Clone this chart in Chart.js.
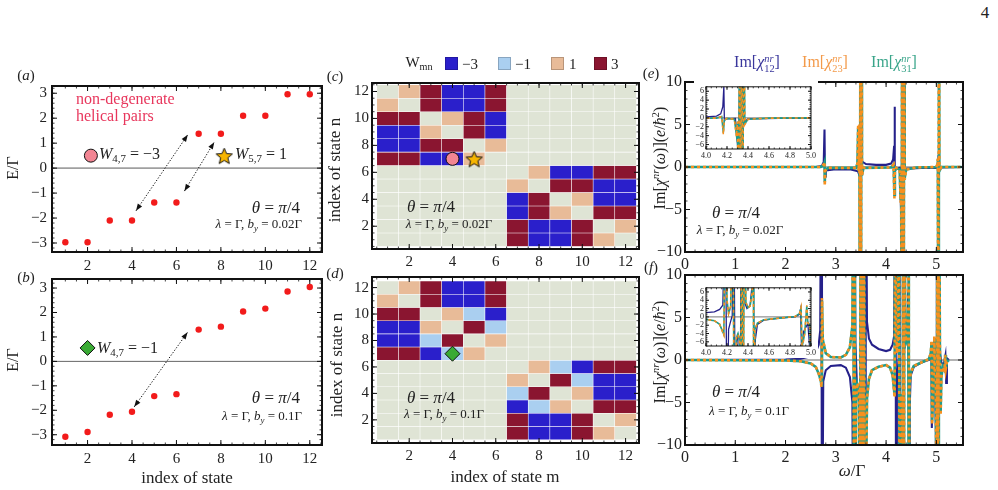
<!DOCTYPE html>
<html>
<head>
<meta charset="utf-8">
<script src="https://cdn.jsdelivr.net/npm/chart.js@4.4.1/dist/chart.umd.min.js"></script>
<style>
  body { margin: 0; background: #fff; }
  #fig { position: relative; width: 998px; height: 490px; overflow: hidden;
         font-family: "Liberation Serif", "DejaVu Serif", serif; color: #222; }
  #fig canvas { position: absolute; }
  .tx { position: absolute; white-space: nowrap; line-height: 1; }
  .tx sub { font-size: 68%; vertical-align: -0.3em; }
  .tx sup { font-size: 68%; vertical-align: 0.55em; }
  .ss { display: inline-block; font-size: 65%; line-height: 1.0; vertical-align: -0.45em; text-align: left; }
  .sq { position: absolute; width: 13px; height: 13px; box-sizing: border-box; border: 1px solid rgba(0,0,0,0.2); }
</style>
</head>
<body>
<div id="fig">
  <canvas id="chartA"></canvas>
  <canvas id="chartB"></canvas>
  <canvas id="chartC"></canvas>
  <canvas id="chartD"></canvas>
  <canvas id="chartE"></canvas>
  <canvas id="chartF"></canvas>
  <canvas id="insetE"></canvas>
  <canvas id="insetF"></canvas>
</div>
<script>
'use strict';

// ---- data ----

// panels (a),(b): eigen-energies E/Gamma vs index of state
const stateIdx = [1, 2, 3, 4, 5, 6, 7, 8, 9, 10, 11, 12];
const energyA = [-2.97, -2.97, -2.1, -2.1, -1.38, -1.38, 1.38, 1.38, 2.1, 2.1, 2.96, 2.96];
const energyB = [-3.08, -2.89, -2.18, -2.06, -1.42, -1.34, 1.3, 1.42, 2.04, 2.16, 2.86, 3.04];
const energyTicks = [-3, -2, -1, 0, 1, 2, 3];
const stateTicks = [2, 4, 6, 8, 10, 12];

// panels (c),(d): W_mn, rows n = 12 ... 1, columns m = 1 ... 12
const wC = [
  [0, 1, 3, -3, -3, 3, 0, 0, 0, 0, 0, 0],
  [1, 0, 3, -3, -3, 3, 0, 0, 0, 0, 0, 0],
  [3, 3, 0, 1, 3, -3, 0, 0, 0, 0, 0, 0],
  [-3, -3, 1, 0, 3, -3, 0, 0, 0, 0, 0, 0],
  [-3, -3, 3, 3, 0, 1, 0, 0, 0, 0, 0, 0],
  [3, 3, -3, -3, 1, 0, 0, 0, 0, 0, 0, 0],
  [0, 0, 0, 0, 0, 0, 0, 1, -3, -3, 3, 3],
  [0, 0, 0, 0, 0, 0, 1, 0, 3, 3, -3, -3],
  [0, 0, 0, 0, 0, 0, -3, 3, 0, 1, -3, -3],
  [0, 0, 0, 0, 0, 0, -3, 3, 1, 0, 3, 3],
  [0, 0, 0, 0, 0, 0, 3, -3, -3, 3, 0, 1],
  [0, 0, 0, 0, 0, 0, 3, -3, -3, 3, 1, 0]
];
const wD = [
  [0, 1, 3, -3, -3, 3, 0, 0, 0, 0, 0, 0],
  [1, 0, 3, -3, -3, 3, 0, 0, 0, 0, 0, 0],
  [3, 3, 0, 1, -1, -3, 0, 0, 0, 0, 0, 0],
  [-3, -3, 1, 0, 3, -1, 0, 0, 0, 0, 0, 0],
  [-3, -3, -1, 3, 0, 1, 0, 0, 0, 0, 0, 0],
  [3, 3, -3, -1, 1, 0, 0, 0, 0, 0, 0, 0],
  [0, 0, 0, 0, 0, 0, 0, 1, -1, -3, 3, 3],
  [0, 0, 0, 0, 0, 0, 1, 0, 3, -1, -3, -3],
  [0, 0, 0, 0, 0, 0, -1, 3, 0, 1, -3, -3],
  [0, 0, 0, 0, 0, 0, -3, -1, 1, 0, 3, 3],
  [0, 0, 0, 0, 0, 0, 3, -3, -3, 3, 0, 1],
  [0, 0, 0, 0, 0, 0, 3, -3, -3, 3, 1, 0]
];
const wLevels = [-3, -1, 1, 3];

// panels (e),(f): Im[chi^nr] vs omega/Gamma, [omega, value]
const e12 = [[0, 0], [2.6, 0], [2.72, 0.1], [2.76, 0.6], [2.775, 4.4], [2.785, -1.1], [2.8, -0.4], [3.0, -0.25],
  [3.3, -0.3], [3.44, -0.5], [3.47, -1], [3.5, 1], [3.53, 0.6], [3.6, 0.35], [3.8, 0.25], [4.0, 0.25], [4.1, 0.4],
  [4.14, 0.9], [4.16, 2.5], [4.17, 7.1], [4.175, -0.6], [4.19, -0.2], [4.28, -0.1], [4.31, -9], [4.32, 9],
  [4.335, -9], [4.35, 9], [4.36, -1], [4.4, -0.2], [4.7, -0.1], [5.0, -0.1], [5.03, 0.3], [5.045, 1.4],
  [5.055, -0.3], [5.1, -0.05], [5.5, 0]];
const e23 = [[0, 0], [2.7, 0], [2.76, 0.3], [2.775, 0.6], [2.78, -2.2], [2.79, -0.4], [2.85, -0.1], [3.4, -0.1],
  [3.43, 0.4], [3.445, 5], [3.455, -0.5], [3.47, 5], [3.48, -30], [3.49, 30], [3.5, -30], [3.51, 30], [3.52, -1],
  [3.55, -0.1], [4.1, -0.05], [4.15, 0.3], [4.165, -3.7], [4.175, -0.5], [4.2, -0.1], [4.27, -0.3], [4.29, -4.2],
  [4.3, -0.8], [4.31, -30], [4.32, 30], [4.33, -30], [4.34, 30], [4.35, -30], [4.36, 30], [4.37, -1.5],
  [4.4, -0.3], [4.6, -0.05], [5.0, 0], [5.02, 0.3], [5.03, 1], [5.04, -30], [5.05, 30], [5.06, -0.5],
  [5.1, 0], [5.5, 0]];
const e31 = [[0, 0], [2.7, 0], [2.76, 0.2], [2.775, 0.5], [2.78, -1.8], [2.79, -0.4], [2.85, -0.1], [3.4, -0.1],
  [3.43, 0.4], [3.445, 4.6], [3.455, -0.5], [3.47, 4.8], [3.48, -30], [3.49, 30], [3.5, -30], [3.51, 30], [3.52, -1],
  [3.55, -0.1], [4.1, -0.05], [4.15, 0.3], [4.165, -3.3], [4.175, -0.5], [4.2, -0.1], [4.27, -0.3], [4.29, -3.9],
  [4.3, -0.8], [4.31, -30], [4.32, 30], [4.33, -30], [4.34, 30], [4.35, -30], [4.36, 30], [4.37, -1.3],
  [4.4, -0.3], [4.6, -0.05], [5.0, 0], [5.02, 0.3], [5.03, 0.9], [5.04, -30], [5.05, 30], [5.06, -0.5],
  [5.1, 0], [5.5, 0]];

const f12 = [[0, 0], [2.0, 0.05], [2.3, 0.15], [2.5, 0.45], [2.6, 0.9], [2.66, 1.8], [2.69, 3.5], [2.71, 30],
  [2.725, -30], [2.75, -2.5], [2.8, -1.2], [2.9, -0.7], [3.1, -0.6], [3.2, -0.9], [3.28, -2], [3.33, -5],
  [3.355, -30], [3.365, 30], [3.39, 2], [3.42, -3], [3.47, -4], [3.52, -8], [3.55, -30], [3.585, -30],
  [3.595, 30], [3.62, 4.5], [3.66, 2.5], [3.72, 1.8], [3.85, 1.3], [4.0, 1.05], [4.08, 1.2], [4.13, 1.8],
  [4.16, 2.8], [4.185, 30], [4.2, -30], [4.215, -3], [4.23, -1.5], [4.25, 0.3], [4.265, 30], [4.28, -30],
  [4.295, -6], [4.305, -4.4], [4.315, -4.8], [4.325, -30], [4.335, 30], [4.36, 4], [4.39, 2], [4.42, 2.8],
  [4.44, 8], [4.45, 30], [4.46, -30], [4.47, -5.5], [4.49, -1.8], [4.55, -0.8], [4.7, -0.3], [4.85, 0],
  [4.89, 0.6], [4.9, 1.8], [4.91, -8], [4.93, -3.5], [4.97, -1.6], [4.99, -8.5], [5.0, -30], [5.01, 30],
  [5.03, 5], [5.05, -1], [5.08, 0.5], [5.1, -0.3], [5.15, -0.5], [5.18, 0.5], [5.195, -2.7], [5.21, 0.2],
  [5.25, 0]];
const f23 = [[0, 0], [2.0, -0.05], [2.3, -0.15], [2.5, -0.4], [2.6, -0.8], [2.66, -1.6], [2.7, -2.5],
  [2.715, -3.2], [2.725, 7.3], [2.74, 2.5], [2.8, 0.8], [2.9, 0.35], [3.1, 0.3], [3.2, 0.6], [3.28, 1.5],
  [3.33, 4], [3.35, 30], [3.36, -30], [3.37, 30], [3.38, -30], [3.4, -5], [3.43, -2.7], [3.46, -3.5],
  [3.48, -30], [3.495, 30], [3.51, -30], [3.53, 30], [3.545, -30], [3.56, 30], [3.575, -30], [3.62, -4.5],
  [3.66, -2.2], [3.72, -1.2], [3.85, -0.8], [4.0, -0.6], [4.08, -0.9], [4.13, -1.8], [4.17, -4.4], [4.185, 30],
  [4.2, 4], [4.215, 0.8], [4.235, 2.5], [4.255, 30], [4.27, -30], [4.29, -5], [4.305, -4.2], [4.32, -5.5],
  [4.33, -30], [4.34, 30], [4.355, -30], [4.365, 30], [4.38, 3.5], [4.4, 2.2], [4.42, 2.6], [4.44, 6],
  [4.45, 30], [4.455, -30], [4.465, -3.2], [4.49, -1.5], [4.55, -0.7], [4.7, -0.3], [4.85, 0.1], [4.89, 0.8],
  [4.905, 2.3], [4.915, -7.6], [4.94, -4], [4.96, 2.8], [4.97, -1.5], [4.99, -2], [5.01, -30], [5.02, 30],
  [5.035, -30], [5.05, 30], [5.07, 2], [5.085, -6.5], [5.1, -2], [5.13, -0.8], [5.165, -1.2], [5.175, 0.6],
  [5.19, -1], [5.21, -0.2], [5.25, 0]];
const f31 = [[0, 0], [2.0, -0.05], [2.3, -0.15], [2.5, -0.4], [2.6, -0.8], [2.66, -1.6], [2.7, -2.4],
  [2.715, -3.0], [2.725, 7.0], [2.74, 2.4], [2.8, 0.8], [2.9, 0.35], [3.1, 0.3], [3.2, 0.6], [3.28, 1.5],
  [3.33, 4], [3.35, 30], [3.36, -30], [3.37, 30], [3.38, -30], [3.4, -5], [3.43, -2.9], [3.46, -3.6],
  [3.48, -30], [3.495, 30], [3.51, -30], [3.53, 30], [3.545, -30], [3.56, 30], [3.575, -30], [3.62, -4.5],
  [3.66, -2.2], [3.72, -1.2], [3.85, -0.8], [4.0, -0.6], [4.08, -0.9], [4.13, -1.8], [4.17, -4.2], [4.185, 30],
  [4.2, 4], [4.215, 0.8], [4.235, 2.5], [4.255, 30], [4.27, -30], [4.29, -5], [4.305, -4.0], [4.32, -5.5],
  [4.33, -30], [4.34, 30], [4.355, -30], [4.365, 30], [4.38, 3.5], [4.4, 2.2], [4.42, 2.6], [4.44, 6],
  [4.45, 30], [4.455, -30], [4.465, -3.0], [4.49, -1.5], [4.55, -0.7], [4.7, -0.3], [4.85, 0.1], [4.89, 0.8],
  [4.905, 2.1], [4.915, -7.2], [4.94, -4], [4.96, 2.6], [4.97, -1.5], [4.99, -2], [5.01, -30], [5.02, 30],
  [5.035, -30], [5.05, 30], [5.07, 2], [5.085, -6.2], [5.1, -2], [5.13, -0.8], [5.165, -1.2], [5.175, 0.6],
  [5.19, -1], [5.21, -0.2], [5.25, 0]];
const specTicksX = [0, 1, 2, 3, 4, 5];
const specTicksY = [-10, -5, 0, 5, 10];
const insetTicksX = [4.0, 4.2, 4.4, 4.6, 4.8, 5.0];
const insetTicksY = [-6, -4, -2, 0, 2, 4, 6];

// ---- styles ----
const navy = '#25208a', orange = '#f7901e', teal = '#1f9d8a';
const wColor = { '-3': '#2a1fcb', '-1': '#aacff0', '0': '#dfe4d5', '1': '#e8bb98', '3': '#8a1530' };

Chart.defaults.font.family = '"Liberation Serif", "DejaVu Serif", serif';
Chart.defaults.color = '#222';
Chart.defaults.animation = false;

const fmt = v => (v < 0 ? '\u2212' + Math.abs(v) : String(v));
const steps = (a, b, s) => { const out = []; for (let v = a; v <= b + 1e-9; v += s) out.push(+v.toFixed(4)); return out; };

// frame with inward ticks on all four sides, plus zero line, arrows, white background
const framePlugin = {
  id: 'frame',
  beforeDraw(chart, args, o) {
    if (o.bg) {
      const ctx = chart.ctx;
      ctx.save();
      ctx.fillStyle = o.bg;
      ctx.fillRect(0, 0, chart.width, chart.height);
      ctx.restore();
    }
  },
  beforeDatasetsDraw(chart, args, o) {
    if (!o.zero) return;
    const { ctx, chartArea: a, scales: { y } } = chart;
    const py = y.getPixelForValue(0);
    ctx.save();
    ctx.strokeStyle = o.zero.color;
    ctx.lineWidth = o.zero.width;
    ctx.beginPath();
    ctx.moveTo(a.left, py);
    ctx.lineTo(a.right, py);
    ctx.stroke();
    ctx.restore();
  },
  afterDatasetsDraw(chart, args, o) {
    const { ctx, chartArea: a, scales: { x, y } } = chart;
    ctx.save();
    (o.arrows || []).forEach(([x1, y1, x2, y2]) => {
      const p1 = [x.getPixelForValue(x1), y.getPixelForValue(y1)];
      const p2 = [x.getPixelForValue(x2), y.getPixelForValue(y2)];
      const ang = Math.atan2(p2[1] - p1[1], p2[0] - p1[0]);
      ctx.strokeStyle = '#111';
      ctx.lineWidth = 1;
      ctx.setLineDash([1.3, 1.7]);
      ctx.beginPath();
      ctx.moveTo(p1[0], p1[1]);
      ctx.lineTo(p2[0], p2[1]);
      ctx.stroke();
      ctx.setLineDash([]);
      ctx.fillStyle = '#111';
      [[p2, ang], [p1, ang + Math.PI]].forEach(([p, t]) => {
        ctx.beginPath();
        ctx.moveTo(p[0], p[1]);
        ctx.lineTo(p[0] - 7 * Math.cos(t) + 2.6 * Math.sin(t), p[1] - 7 * Math.sin(t) - 2.6 * Math.cos(t));
        ctx.lineTo(p[0] - 7 * Math.cos(t) - 2.6 * Math.sin(t), p[1] - 7 * Math.sin(t) + 2.6 * Math.cos(t));
        ctx.closePath();
        ctx.fill();
      });
    });
    ctx.strokeStyle = '#111';
    const tk = (vals, len, lw) => {
      ctx.lineWidth = lw;
      ctx.beginPath();
      (vals.x || []).forEach(v => {
        const px = x.getPixelForValue(v);
        if (px < a.left || px > a.right) return;
        ctx.moveTo(px, a.bottom); ctx.lineTo(px, a.bottom - len);
        ctx.moveTo(px, a.top); ctx.lineTo(px, a.top + len);
      });
      (vals.y || []).forEach(v => {
        const py = y.getPixelForValue(v);
        if (py < a.top || py > a.bottom) return;
        ctx.moveTo(a.left, py); ctx.lineTo(a.left + len, py);
        ctx.moveTo(a.right, py); ctx.lineTo(a.right - len, py);
      });
      ctx.stroke();
    };
    tk(o.minor || {}, o.minLen || 2.5, 0.8);
    tk(o.major || {}, o.majLen || 5, 1);
    ctx.lineWidth = o.lw || 2;
    ctx.strokeRect(a.left, a.top, a.right - a.left, a.bottom - a.top);
    ctx.restore();
  }
};
Chart.register(framePlugin);

function axis(min, max, ticks, size, pad, digits) {
  return {
    type: 'linear', min, max, offset: false,
    grid: { display: false, drawTicks: false },
    border: { display: false },
    afterBuildTicks: s => { s.ticks = ticks.map(v => ({ value: v })); },
    ticks: {
      autoSkip: false, maxRotation: 0, padding: pad,
      font: { size }, color: '#222',
      callback: v => (digits ? fmt(+v.toFixed(digits)).replace(/^(\u2212?\d+)$/, '$1.0') : fmt(v))
    }
  };
}

// place a chart so that its plot area is exactly [l,r] x [t,b]
// (pt/pr are kept larger than half a tick label so Chart.js does not shrink the plot area)
function makeChart(id, box, cfg) {
  const { l, t, r, b, yw, xh, pt = 13, pr = 13 } = box;
  const c = document.getElementById(id);
  c.width = Math.round(r - l + yw + pr);
  c.height = Math.round(b - t + pt + xh);
  c.style.left = (l - yw) + 'px';
  c.style.top = (t - pt) + 'px';
  const o = cfg.options;
  o.responsive = false;
  o.events = [];
  o.layout = { padding: { left: 0, top: pt, right: c.width - (r - l + yw), bottom: 0 } };
  o.scales.x.afterFit = s => { s.height = xh; };
  o.scales.y.afterFit = s => { s.width = yw; };
  o.plugins = Object.assign({ legend: { display: false }, tooltip: { enabled: false } }, o.plugins);
  return new Chart(c, cfg);
}

// filled five-point star used as a marker
function starImage(size, fill) {
  const c = document.createElement('canvas');
  c.width = c.height = size;
  const g = c.getContext('2d');
  const cx = size / 2, cy = size / 2 + 1, R = size / 2 - 1, r = R * 0.45;
  g.beginPath();
  for (let i = 0; i < 10; i++) {
    const rad = i % 2 ? r : R;
    const t = -Math.PI / 2 + i * Math.PI / 5;
    g.lineTo(cx + rad * Math.cos(t), cy + rad * Math.sin(t));
  }
  g.closePath();
  g.fillStyle = fill;
  g.fill();
  g.strokeStyle = '#111';
  g.lineWidth = 1;
  g.stroke();
  return c;
}
const star = starImage(19, '#f7b500');

function marker(x, y, style, radius, color) {
  return {
    type: 'line', showLine: false, order: 0,
    data: [{ x, y }],
    pointStyle: style, pointRadius: radius,
    pointBackgroundColor: color, pointBorderColor: '#111', pointBorderWidth: 1
  };
}

// ---- (a), (b) energies ----
function energyChart(id, box, energies, yMin, yMax, extra, arrows, zero) {
  return makeChart(id, box, {
    type: 'scatter',
    data: {
      datasets: extra.concat([{
        order: 1,
        data: stateIdx.map((s, i) => ({ x: s, y: energies[i] })),
        pointRadius: 3.2, pointBackgroundColor: '#f21b1b', pointBorderWidth: 0
      }])
    },
    options: {
      scales: {
        x: axis(0.4, 12.55, stateTicks, 15, 5),
        y: axis(yMin, yMax, energyTicks, 15, 5)
      },
      plugins: {
        frame: {
          zero, arrows,
          major: { x: stateTicks, y: energyTicks },
          minor: { x: steps(1, 12.5, 0.5), y: steps(-3.4, 3.4, 0.2) }
        }
      }
    }
  });
}

energyChart('chartA', { l: 52, t: 85, r: 322, b: 252, yw: 46, xh: 24 }, energyA, -3.36, 3.29,
  [marker(2.15, 0.5, 'circle', 6.5, '#f28593'), marker(8.15, 0.5, star, 9, '#f7b500')],
  [[4.18, -1.71, 6.51, 1.34], [6.36, -0.92, 7.7, 1.04]], { color: '#a0a0a0', width: 1.6 });

energyChart('chartB', { l: 52, t: 278, r: 322, b: 445, yw: 46, xh: 24 }, energyB, -3.42, 3.37,
  [marker(2.0, 0.55, 'rectRot', 7.5, '#3aaa35')],
  [[4.1, -1.86, 6.5, 1.19]], { color: '#666', width: 1 });

// ---- (c), (d) W_mn matrix ----
function cellSets(w) {
  return w.map((row, i) => {
    const n = 12 - i;
    return {
      type: 'bar', order: 2,
      data: row.map((v, j) => ({ x: j + 1, y: [n - 0.5, n + 0.5] })),
      backgroundColor: row.map(v => wColor[v]),
      borderColor: 'rgba(255,255,255,0.45)', borderWidth: 0.6, borderSkipped: false,
      grouped: false, barPercentage: 1, categoryPercentage: 1
    };
  });
}

function matrixChart(id, box, w, yMin, yMax, markers) {
  return makeChart(id, box, {
    type: 'bar',
    data: { datasets: markers.concat(cellSets(w)) },
    options: {
      scales: {
        x: axis(0.28, 12.62, stateTicks, 15, 4),
        y: axis(yMin, yMax, stateTicks, 15, 3)
      },
      plugins: {
        frame: {
          major: { x: stateTicks, y: stateTicks },
          minor: { x: steps(0.5, 12.5, 0.5), y: steps(0.5, 12.5, 0.5) }
        }
      }
    }
  });
}

matrixChart('chartC', { l: 372, t: 83, r: 639, b: 249, yw: 40, xh: 24 }, wC, 0.31, 12.63,
  [marker(4, 7, 'circle', 6.5, '#f28593'), marker(5, 7, star, 9, '#f7b500')]);
matrixChart('chartD', { l: 372, t: 277, r: 639, b: 443, yw: 40, xh: 24 }, wD, 0.25, 12.8,
  [marker(4, 7, 'rectRot', 7.5, '#3aaa35')]);

// ---- (e), (f) spectra ----
function specSets(d12, d23, d31, w) {
  return [
    { data: d23, borderColor: orange, borderWidth: w, borderDash: [3, 3], pointRadius: 0, order: 0 },
    { data: d31, borderColor: teal, borderWidth: w, pointRadius: 0, order: 1 },
    { data: d12, borderColor: navy, borderWidth: w * 0.8, pointRadius: 0, order: 2 }
  ];
}

function specChart(id, box, d12, d23, d31) {
  return makeChart(id, box, {
    type: 'line',
    data: { datasets: specSets(d12, d23, d31, 2.6) },
    options: {
      scales: {
        x: axis(0, 5.53, specTicksX, 16, 3),
        y: axis(-10, 10, specTicksY, 16, 3)
      },
      plugins: {
        frame: {
          zero: { color: '#9a9a9a', width: 1.6 },
          major: { x: specTicksX, y: specTicksY },
          minor: { x: steps(0, 5.5, 0.2), y: steps(-10, 10, 1) }
        }
      }
    }
  });
}

function insetChart(id, box, d12, d23, d31) {
  return makeChart(id, box, {
    type: 'line',
    data: { datasets: specSets(d12, d23, d31, 1.6) },
    options: {
      scales: {
        x: axis(4.0, 5.0, insetTicksX, 8, 2, 1),
        y: axis(-7, 7, insetTicksY, 8, 2)
      },
      plugins: {
        frame: {
          bg: '#fff', lw: 1, majLen: 3, minLen: 1.5,
          zero: { color: '#777', width: 1 },
          major: { x: insetTicksX, y: insetTicksY },
          minor: { x: steps(4, 5, 0.05), y: steps(-7, 7, 0.5) }
        }
      }
    }
  });
}

specChart('chartE', { l: 685, t: 82, r: 963, b: 252, yw: 36, xh: 24 }, e12, e23, e31);
specChart('chartF', { l: 685, t: 275, r: 963, b: 445, yw: 36, xh: 24 }, f12, f23, f31);
insetChart('insetE', { l: 706, t: 85.5, r: 811, b: 148.5, yw: 12, xh: 12, pt: 6, pr: 7 }, e12, e23, e31);
insetChart('insetF', { l: 706, t: 286.5, r: 811, b: 345, yw: 12, xh: 12, pt: 6, pr: 7 }, f12, f23, f31);

// ---- text ----
const fig = document.getElementById('fig');
function label(html, x, y, size, opt = {}) {
  const d = document.createElement('div');
  d.className = 'tx';
  d.innerHTML = html;
  d.style.left = x + 'px';
  d.style.top = y + 'px';
  d.style.fontSize = size + 'px';
  const ax = opt.align === 'l' ? '0' : opt.align === 'r' ? '-100%' : '-50%';
  d.style.transform = 'translate(' + ax + ', -50%)' + (opt.rot ? ' rotate(-90deg)' : '');
  if (opt.color) d.style.color = opt.color;
  if (opt.lh) d.style.lineHeight = opt.lh;
  fig.appendChild(d);
}

const theta = '<i>θ</i> = <i>π</i>/4';
const lam = b => '<i>λ</i> = Γ, <i>b<sub>y</sub></i> = ' + b + 'Γ';

label('(<i>a</i>)', 26, 75, 15);
label('(<i>b</i>)', 26, 277, 15);
label('(<i>c</i>)', 335, 76, 15);
label('(<i>d</i>)', 335, 273, 15);
label('(<i>e</i>)', 651, 73, 15);
label('(<i>f</i>)', 651, 267, 15);
label('4', 985, 12, 17);

label('non-degenerate<br>helical pairs', 76, 107, 16, { align: 'l', color: '#e8365c', lh: '17px' });
label('<i>W</i><sub>4,7</sub> = \u22123', 99, 155, 16, { align: 'l' });
label('<i>W</i><sub>5,7</sub> = 1', 235, 155, 16, { align: 'l' });
label('<i>W</i><sub>4,7</sub> = \u22121', 97, 349, 16, { align: 'l' });

label(theta, 300, 207, 17, { align: 'r' });
label(lam('0.02'), 302, 225, 13, { align: 'r' });
label(theta, 300, 397, 17, { align: 'r' });
label(lam('0.1'), 302, 417, 13, { align: 'r' });
label(theta, 431, 206, 17);
label(lam('0.02'), 449, 225, 13);
label(theta, 431, 397, 17);
label(lam('0.1'), 444, 415, 13);
label(theta, 736, 212, 17);
label(lam('0.02'), 740, 231, 13);
label(theta, 736, 391, 17);
label(lam('0.1'), 749, 412, 13);

label('E/Γ', 13, 168, 16, { rot: true });
label('E/Γ', 13, 360, 16, { rot: true });
label('index of state', 187, 477, 17);
label('index of state n', 334, 170, 17, { rot: true });
label('index of state n', 336, 365, 17, { rot: true });
label('index of state m', 505, 476, 17);
const imLabel = 'Im[<i>χ</i><sup><i>nr</i></sup>(<i>ω</i>)](<i>e</i>/<i>ħ</i><sup>2</sup>)';
label(imLabel, 659, 158, 16, { rot: true });
label(imLabel, 659, 352, 16, { rot: true });
label('<i>ω</i>/Γ', 852, 470, 17);

// W_mn legend
label('W<sub>mn</sub>', 419, 64, 15);
const legX = [[445, 462], [498, 515], [551, 569], [594, 611]];
wLevels.forEach((v, i) => {
  const s = document.createElement('div');
  s.className = 'sq';
  s.style.left = legX[i][0] + 'px';
  s.style.top = '57px';
  s.style.background = wColor[v];
  fig.appendChild(s);
  label(fmt(v), legX[i][1], 64, 15, { align: 'l' });
});

// spectra legend
const chiLabel = ij => 'Im[<i>χ</i><span class="ss"><i>nr</i><br>' + ij + '</span>]';
label(chiLabel('12'), 757, 64, 16, { color: '#3a379c' });
label(chiLabel('23'), 825, 64, 16, { color: '#f39a4a' });
label(chiLabel('31'), 894, 64, 16, { color: '#3aa58a' });
</script>
</body>
</html>
